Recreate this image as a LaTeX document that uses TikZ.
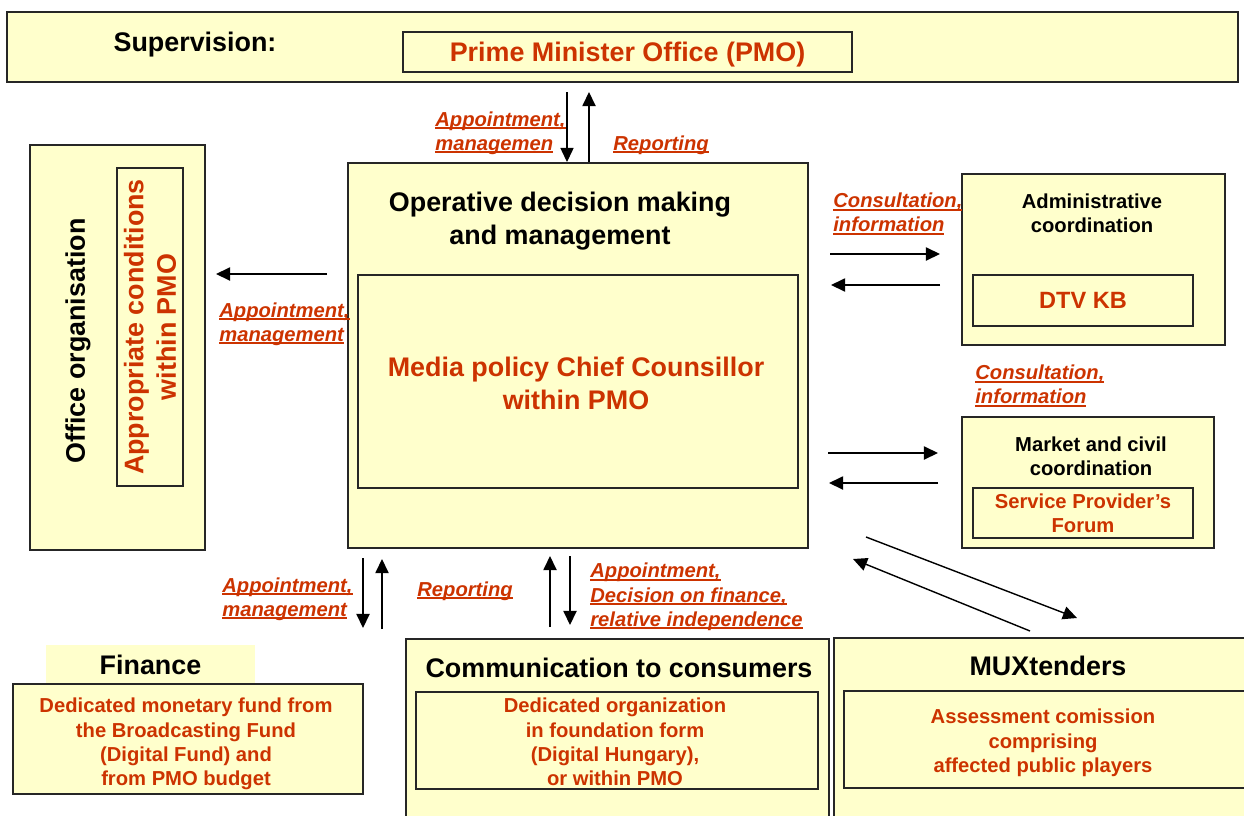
\documentclass[tikz,border=0pt]{standalone}
\usepackage{fontspec}
\setmainfont{Liberation Sans}
\usetikzlibrary{arrows.meta}
\definecolor{paleyellow}{RGB}{255,255,204}
\definecolor{boxred}{RGB}{204,51,0}
\newcommand\headfont{\fontsize{15.3}{18.6}\selectfont\bfseries}
\newcommand\notefont{\fontsize{11.5}{13.8}\selectfont\bfseries}
\newsavebox\ulbox
\newcommand\redul[1]{\sbox\ulbox{#1}\rlap{\rule[-1.7pt]{\wd\ulbox}{1.1pt}}\usebox\ulbox}

\begin{document}
\begin{tikzpicture}[x=0.02cm,y=-0.02cm,
  box/.style={draw=black!85,line width=0.8pt,fill=paleyellow,inner sep=0pt},
  innerbox/.style={draw=black!85,line width=0.7pt,fill=paleyellow,inner sep=0pt},
  head/.style={font=\headfont,align=center,inner sep=0pt},
  note/.style={font=\notefont,align=center,inner sep=0pt},
  redtext/.style={text=boxred},
  lbl/.style={font=\notefont\itshape,text=boxred,align=left,anchor=west,inner sep=0pt,yshift=-1.1pt},
  arr/.style={line width=0.8pt,-{Triangle[length=8pt,width=7.5pt]}}]
\useasboundingbox (0,0) rectangle (1244,815);
\clip (0,0) rectangle (1244,815);

\node[box,minimum width=24.62cm,minimum height=1.4cm] (sup) at (622.5,47) {};
\node[head] (suptxt) at (195,45) {Supervision:};
\node[innerbox,minimum width=8.98cm,minimum height=0.8cm] (pmo) at (627.5,52) {};
\node[head,redtext] (pmotxt) at (627.5,55) {Prime Minister Office (PMO)};

\node[box,minimum width=3.5cm,minimum height=8.1cm] (office) at (117.5,347.5) {};
\node[head,rotate=90] (officetxt) at (78,341) {Office organisation};
\node[innerbox,head,redtext,rotate=90,minimum width=6.36cm,minimum height=1.32cm] (cond) at (150,327) {Appropriate conditions\\within PMO};

\node[box,minimum width=9.2cm,minimum height=7.7cm] (op) at (578,355.5) {};
\node[head] (optxt) at (560,221) {Operative decision making\\and management};
\node[innerbox,minimum width=8.8cm,minimum height=4.26cm] (media) at (578,381.5) {};
\node[head,redtext] (mediatxt) at (576,383.5) {Media policy Chief Counsillor\\within PMO};

\node[box,minimum width=5.26cm,minimum height=3.42cm] (adm) at (1093.5,259.5) {};
\node[note] (admtxt) at (1092,213) {Administrative\\coordination};
\node[innerbox,redtext,font=\fontsize{13.4}{16}\selectfont\bfseries,minimum width=4.4cm,minimum height=1.02cm] (dtv) at (1083,300.5) {DTV KB};

\node[box,minimum width=5.04cm,minimum height=2.62cm] (mkt) at (1088,482.5) {};
\node[note] (mkttxt) at (1091,456) {Market and civil\\coordination};
\node[innerbox,note,redtext,minimum width=4.4cm,minimum height=1cm] (spf) at (1083,513) {Service Provider’s\\Forum};

\node[fill=paleyellow,head,minimum width=4.18cm,minimum height=0.78cm] (finhead) at (150.5,664.5) {Finance};
\node[box,minimum width=7cm,minimum height=2.2cm] (fin) at (188,739) {};
\node[note,redtext] (fintxt) at (186,744) {Dedicated monetary fund from\\the Broadcasting Fund\\(Digital Fund) and\\from PMO budget};

\node[box,minimum width=8.46cm,minimum height=3.82cm] (com) at (617.5,734.5) {};
\node[head] (comtxt) at (619,668) {Communication to consumers};
\node[innerbox,minimum width=8.04cm,minimum height=1.94cm] (cominner) at (617,740.5) {};
\node[note,redtext] (cominnertxt) at (615,742) {Dedicated organization\\in foundation form\\(Digital Hungary),\\or within PMO};

\node[box,minimum width=8.52cm,minimum height=3.84cm] (mux) at (1047,734) {};
\node[head] (muxtxt) at (1048,666) {MUXtenders};
\node[innerbox,minimum width=8.22cm,minimum height=1.94cm] (muxinner) at (1049.5,739.5) {};
\node[note,redtext] (muxinnertxt) at (1043,743) {Assessment comission\\comprising\\affected public players};

\coordinate (pmoA) at (567,92);
\coordinate (pmoB) at (567,162);
\coordinate (pmoC) at (589,162);
\coordinate (pmoD) at (589,92);
\draw[arr,line width=0.6pt] (pmoA) -- (pmoB);
\draw[arr] (pmoC) -- (pmoD);
\node[lbl] (pmolblA) at (435,131) {\redul{Appointment,}\\\redul{managemen}};
\node[lbl] (pmolblR) at (613,143) {\redul{Reporting}};

\coordinate (offA) at (327,274);
\coordinate (offB) at (216,274);
\draw[arr] (offA) -- (offB);
\node[lbl] (offlbl) at (219,322) {\redul{Appointment,}\\\redul{management}};

\coordinate (admA) at (830,254);
\coordinate (admB) at (940,254);
\coordinate (admC) at (940,285);
\coordinate (admD) at (831,285);
\draw[arr] (admA) -- (admB);
\draw[arr] (admC) -- (admD);
\node[lbl] (admlbl) at (833,212) {\redul{Consultation,}\\\redul{information}};

\coordinate (mktA) at (828,453);
\coordinate (mktB) at (938,453);
\coordinate (mktC) at (938,483);
\coordinate (mktD) at (829,483);
\draw[arr] (mktA) -- (mktB);
\draw[arr] (mktC) -- (mktD);
\node[lbl] (mktlbl) at (975,384) {\redul{Consultation,}\\\redul{information}};

\coordinate (muxA) at (866,537);
\coordinate (muxB) at (1077,618);
\coordinate (muxC) at (1030,631);
\coordinate (muxD) at (853,559);
\draw[arr] (muxA) -- (muxB);
\draw[arr] (muxC) -- (muxD);

\coordinate (finA) at (363,558);
\coordinate (finB) at (363,628);
\coordinate (finC) at (382,629);
\coordinate (finD) at (382,559);
\draw[arr] (finA) -- (finB);
\draw[arr] (finC) -- (finD);
\node[lbl] (finlbl) at (222,597) {\redul{Appointment,}\\\redul{management}};

\coordinate (comA) at (550,627);
\coordinate (comB) at (550,556);
\coordinate (comC) at (570,556);
\coordinate (comD) at (570,625);
\draw[arr] (comA) -- (comB);
\draw[arr] (comC) -- (comD);
\node[lbl] (comlblR) at (417,589) {\redul{Reporting}};
\node[lbl] (comlblA) at (590,595) {\redul{Appointment,}\\\redul{Decision on finance,}\\\redul{relative independence}};
\end{tikzpicture}
\end{document}
